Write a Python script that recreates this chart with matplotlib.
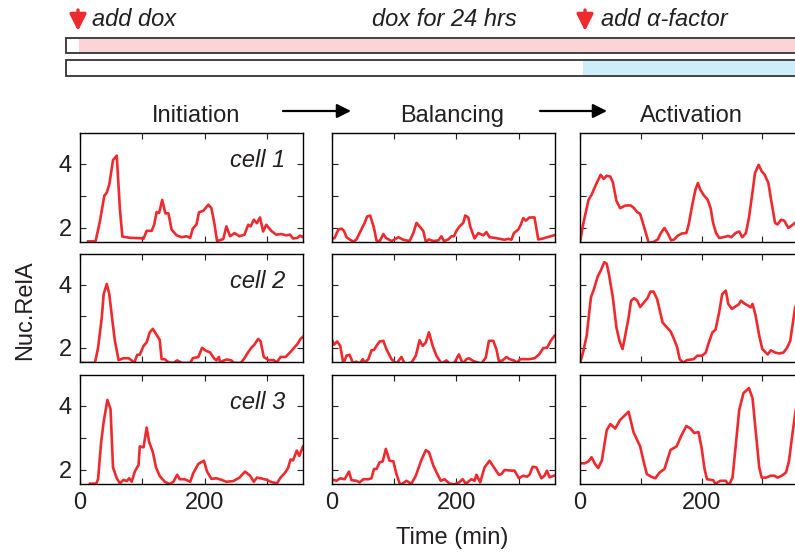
import matplotlib.pyplot as plt
from matplotlib.patches import Rectangle

plt.rcParams['font.family'] = ['Liberation Sans', 'DejaVu Sans']

# traces: time (min) and nuclear RelA, one pair per panel
init_c1_t = [13, 25, 32, 39, 43, 47, 53, 59, 64, 68, 81, 97, 102, 107, 115, 119, 123, 127, 132, 137, 142, 147, 155, 163, 171, 177,
             181, 187, 191, 198, 206, 211, 216, 220, 230, 235, 241, 248, 256, 264, 270, 274, 279, 284, 289, 294, 299, 307, 315,
             323, 331, 337, 342, 349, 353, 358]
init_c1_v = [1.57, 1.57, 2.2, 3.0, 3.1, 3.35, 4.12, 4.26, 2.6, 1.72, 1.68, 1.67, 1.65, 1.9, 1.9, 2.09, 2.49, 2.46, 2.87, 2.45, 2.45,
             1.94, 1.76, 1.7, 1.73, 1.68, 1.97, 2.1, 2.48, 2.53, 2.72, 2.61, 2.1, 1.58, 1.64, 2.04, 1.73, 1.83, 1.73, 1.78, 2.09,
             2.04, 2.25, 2.14, 2.32, 1.88, 2.09, 1.9, 1.78, 1.8, 1.76, 1.78, 1.66, 1.68, 1.75, 1.7]

bal_c1_t = [0, 5, 11, 16, 20, 24, 29, 35, 40, 45, 53, 57, 62, 68, 72, 77, 83, 87, 96, 101, 107, 115, 125, 131, 136, 141, 147, 151,
            156, 163, 171, 176, 180, 187, 192, 196, 200, 205, 211, 214, 219, 222, 229, 235, 243, 248, 253, 261, 269, 277, 283,
            288, 292, 299, 303, 307, 311, 317, 325, 331, 339, 345, 351, 356]
bal_c1_v = [1.63, 1.68, 1.94, 1.97, 1.9, 1.7, 1.63, 1.56, 1.63, 1.83, 2.15, 2.35, 2.38, 1.99, 1.6, 1.57, 1.8, 1.68, 1.58, 1.63, 1.7,
            1.62, 1.58, 1.83, 2.15, 2.04, 1.89, 1.56, 1.63, 1.58, 1.6, 1.73, 1.58, 1.63, 1.73, 1.73, 1.9, 2.04, 2.15, 2.38, 2.32,
            2.04, 1.66, 1.83, 1.76, 1.86, 1.7, 1.68, 1.65, 1.62, 1.65, 1.62, 1.83, 1.94, 2.09, 2.3, 2.22, 2.32, 2.32, 1.63, 1.66,
            1.7, 1.73, 1.76]

act_c1_t = [0, 5, 14, 19, 26, 34, 39, 44, 50, 54, 60, 66, 74, 83, 88, 94, 99, 106, 113, 121, 128, 133, 139, 145, 150, 155, 161, 168,
            175, 179, 185, 190, 194, 198, 204, 210, 215, 219, 224, 229, 236, 244, 249, 256, 262, 267, 273, 278, 284, 288, 294,
            299, 304, 310, 315, 321, 325, 331, 336, 343, 350, 355, 362]
act_c1_v = [1.55, 2.09, 2.87, 3.03, 3.34, 3.66, 3.53, 3.63, 3.6, 3.43, 2.84, 2.61, 2.69, 2.7, 2.63, 2.49, 2.43, 1.99, 1.53, 1.55,
            1.63, 1.83, 1.99, 1.8, 1.6, 1.63, 1.75, 1.82, 1.83, 2.11, 2.74, 3.19, 3.4, 3.19, 3.01, 2.88, 2.61, 2.15, 1.83, 1.68,
            1.7, 1.74, 1.7, 1.83, 1.88, 1.7, 1.83, 2.3, 3.13, 3.71, 3.97, 3.77, 3.66, 3.4, 2.82, 2.15, 2.1, 2.25, 2.22, 1.99, 2.09,
            2.17, 2.22]

init_c2_t = [0, 24, 29, 35, 38, 43, 47, 52, 56, 62, 70, 78, 83, 87, 92, 96, 102, 107, 112, 117, 122, 128, 131, 136, 142, 150, 156,
             164, 177, 181, 190, 196, 201, 209, 215, 219, 223, 225, 231, 236, 243, 247, 258, 263, 268, 275, 280, 286, 290, 295,
             303, 311, 316, 322, 330, 337, 342, 349, 354, 358]
init_c2_v = [1.52, 1.52, 2.0, 2.96, 3.7, 4.02, 3.7, 2.86, 2.22, 1.61, 1.67, 1.67, 1.6, 1.52, 1.78, 1.78, 2.06, 2.17, 2.49, 2.6,
             2.44, 2.25, 1.64, 1.64, 1.54, 1.52, 1.6, 1.52, 1.52, 1.67, 1.71, 2.0, 1.92, 1.85, 1.67, 1.6, 1.71, 1.54, 1.6, 1.63,
             1.6, 1.52, 1.52, 1.64, 1.8, 2.0, 2.1, 2.28, 2.2, 1.71, 1.61, 1.61, 1.54, 1.71, 1.71, 1.85, 1.96, 2.12, 2.28, 2.35]

bal_c2_t = [0, 4, 9, 14, 19, 24, 29, 34, 40, 45, 50, 53, 59, 64, 68, 72, 77, 83, 88, 96, 104, 112, 117, 121, 128, 135, 141, 146,
            151, 156, 162, 168, 176, 184, 189, 196, 204, 210, 216, 220, 227, 235, 240, 247, 252, 259, 264, 268, 274, 280, 285,
            292, 297, 302, 309, 317, 325, 332, 339, 345, 351, 357]
bal_c2_v = [2.28, 2.1, 2.2, 2.06, 1.5, 1.75, 1.78, 1.53, 1.56, 1.5, 1.64, 1.53, 1.64, 1.92, 1.93, 2.06, 2.2, 2.22, 1.95, 1.64, 1.5,
            1.71, 1.5, 1.5, 1.53, 1.75, 2.24, 2.06, 2.17, 2.49, 2.06, 1.75, 1.5, 1.6, 1.5, 1.5, 1.79, 1.5, 1.64, 1.67, 1.58,
            1.53, 1.5, 1.69, 2.22, 2.22, 1.95, 1.58, 1.6, 1.71, 1.64, 1.6, 1.53, 1.64, 1.64, 1.64, 1.67, 1.78, 1.99, 2.0, 2.22,
            2.38]

act_c2_t = [0, 5, 11, 18, 23, 29, 34, 40, 44, 48, 54, 60, 65, 70, 74, 80, 84, 89, 94, 99, 105, 111, 116, 121, 127, 132, 136, 142,
            149, 154, 160, 164, 170, 176, 187, 193, 201, 207, 212, 218, 223, 229, 234, 240, 244, 250, 255, 261, 265, 270, 277,
            281, 284, 289, 295, 300, 309, 314, 321, 328, 335, 341, 346, 350, 354, 362]
act_c2_v = [1.52, 1.85, 2.38, 3.6, 3.86, 4.25, 4.44, 4.71, 4.66, 4.29, 3.6, 2.64, 2.22, 1.96, 2.34, 2.96, 3.49, 3.57, 3.5, 3.29,
            3.43, 3.57, 3.78, 3.78, 3.54, 3.12, 2.8, 2.67, 2.52, 2.31, 2.01, 1.64, 1.53, 1.61, 1.64, 1.75, 1.75, 1.85, 2.17, 2.49,
            2.57, 3.12, 3.7, 3.81, 3.39, 3.23, 3.3, 3.37, 3.49, 3.41, 3.33, 3.28, 3.39, 3.02, 2.38, 1.96, 1.79, 1.92, 1.85, 1.82,
            1.85, 2.01, 2.22, 2.75, 3.28, 3.6]

init_c3_t = [16, 26, 29, 34, 38, 44, 49, 53, 59, 64, 70, 75, 79, 83, 88, 94, 96, 102, 107, 111, 117, 122, 128, 136, 144, 150, 156,
             160, 168, 177, 182, 190, 199, 204, 211, 219, 227, 235, 246, 256, 265, 273, 279, 284, 290, 300, 306, 316, 322, 329,
             334, 338, 342, 348, 352, 358]
init_c3_v = [1.56, 1.56, 1.7, 2.87, 3.5, 4.19, 3.9, 2.07, 1.73, 1.57, 1.68, 1.64, 1.73, 1.62, 1.94, 2.15, 2.73, 2.7, 3.32, 2.87,
             2.55, 2.07, 1.8, 1.62, 1.55, 1.62, 1.84, 1.7, 1.7, 1.62, 1.9, 2.18, 2.28, 1.94, 1.71, 1.73, 1.68, 1.62, 1.64, 1.75,
             1.94, 1.81, 1.62, 1.75, 1.73, 1.68, 1.62, 1.57, 1.75, 1.9, 2.05, 2.32, 2.29, 2.6, 2.43, 2.73]

bal_c3_t = [0, 8, 14, 21, 28, 32, 40, 45, 51, 59, 64, 68, 72, 77, 82, 87, 93, 99, 104, 110, 120, 128, 135, 144, 151, 156, 163, 168,
            175, 181, 189, 197, 204, 210, 215, 224, 229, 232, 238, 245, 253, 260, 268, 272, 277, 288, 293, 300, 307, 313, 317,
            322, 328, 336, 341, 345, 349, 356]
bal_c3_v = [1.7, 1.65, 1.73, 1.7, 1.94, 1.67, 1.65, 1.6, 1.7, 1.7, 1.73, 2.02, 2.02, 2.23, 2.26, 2.65, 2.28, 2.26, 1.86, 1.52,
            1.65, 1.56, 1.81, 2.31, 2.61, 2.55, 2.13, 1.92, 1.65, 1.7, 1.56, 1.54, 1.6, 1.7, 1.56, 1.7, 1.65, 1.84, 1.6, 2.07,
            2.28, 2.07, 1.84, 1.86, 1.99, 1.97, 1.97, 1.73, 1.81, 1.78, 1.84, 2.09, 2.07, 1.73, 1.81, 1.97, 1.76, 1.81]

act_c3_t = [0, 8, 14, 19, 25, 30, 36, 44, 50, 58, 66, 80, 88, 99, 105, 110, 117, 124, 131, 139, 149, 159, 167, 175, 182, 188, 195,
            200, 205, 209, 219, 223, 231, 240, 245, 251, 256, 262, 269, 278, 284, 289, 295, 299, 306, 314, 320, 325, 332, 339,
            344, 350, 355, 362]
act_c3_v = [2.2, 2.2, 2.26, 2.39, 2.17, 2.05, 2.29, 3.24, 3.43, 3.29, 3.56, 3.82, 3.18, 2.73, 2.23, 1.86, 1.78, 1.73, 1.91, 2.02,
            2.62, 2.73, 3.08, 3.37, 3.29, 3.15, 3.18, 2.7, 2.02, 1.7, 1.67, 1.56, 1.65, 1.65, 1.51, 1.75, 2.7, 3.87, 4.4, 4.56,
            4.24, 3.24, 2.07, 1.75, 1.75, 1.81, 1.81, 1.75, 1.81, 1.91, 2.28, 3.18, 3.87, 4.3]

phases = ['Initiation', 'Balancing', 'Activation']
cells = ['cell 1', 'cell 2', 'cell 3']
traces = [[(init_c1_t, init_c1_v), (bal_c1_t, bal_c1_v), (act_c1_t, act_c1_v)],
          [(init_c2_t, init_c2_v), (bal_c2_t, bal_c2_v), (act_c2_t, act_c2_v)],
          [(init_c3_t, init_c3_v), (bal_c3_t, bal_c3_v), (act_c3_t, act_c3_v)]]

W, H = 795, 553
txt = '#231f20'
red = '#ee2a2e'

fig = plt.figure(figsize=(W / 100, H / 100), dpi=100)

# overlay in pixel coordinates for the timeline and headings
ov = fig.add_axes([0, 0, 1, 1])
ov.set_xlim(0, W)
ov.set_ylim(H, 0)
ov.axis('off')

ov.add_patch(Rectangle((66, 38), 740, 15, facecolor='white', edgecolor='#333333', lw=1.3))
ov.add_patch(Rectangle((79, 39), 730, 13, facecolor='#fcd3d6', edgecolor='none'))
ov.add_patch(Rectangle((66, 60), 740, 16, facecolor='white', edgecolor='#333333', lw=1.3))
ov.add_patch(Rectangle((583, 61), 230, 14, facecolor='#cdeef9', edgecolor='none'))

for x0 in [78, 585]:
    ov.annotate('', xy=(x0, 31), xytext=(x0, 10),
                arrowprops=dict(arrowstyle='-|>,head_length=0.5,head_width=0.25', color=red,
                                lw=2.4, mutation_scale=20, shrinkA=0, shrinkB=0))
ov.text(92, 19, 'add dox', fontsize=17, style='italic', color=txt, va='center')
ov.text(372, 19, 'dox for 24 hrs', fontsize=17, style='italic', color=txt, va='center')
ov.text(601, 19, 'add α-factor', fontsize=17, style='italic', color=txt, va='center')

ov.text(196, 116, phases[0], fontsize=17, color=txt, ha='center', va='center')
ov.text(452, 116, phases[1], fontsize=17, color=txt, ha='center', va='center')
ov.text(691, 116, phases[2], fontsize=17, color=txt, ha='center', va='center')
for xa, xb in [(283, 351), (540, 607)]:
    ov.annotate('', xy=(xb, 111), xytext=(xa, 111),
                arrowprops=dict(arrowstyle='-|>', color='black', lw=1.6, mutation_scale=21,
                                shrinkA=0, shrinkB=0))

ov.text(25, 310, 'Nuc.RelA', fontsize=17, color=txt, rotation=90, ha='center', va='center')
ov.text(452, 538, 'Time (min)', fontsize=17, color=txt, ha='center', va='center')

lefts = [80, 331.5, 580]
xmax = [358, 357, 367]
rows = [(133, 242), (254, 362), (375, 484)]

for r, (top, bot) in enumerate(rows):
    for c in range(3):
        ax = fig.add_axes([lefts[c] / W, 1 - bot / H, 223 / W, (bot - top) / H])
        t, v = traces[r][c]
        ax.plot(t, v, color=red, lw=1.9)
        ax.set_xlim(0, xmax[c])
        ax.set_ylim(1.55, 4.97)
        ax.set_xticks([0, 100, 200, 300])
        ax.set_yticks([2, 3, 4])
        ax.tick_params(direction='in', top=True, right=True, length=4, width=0.8,
                       labelsize=17, colors=txt, pad=6)
        if c == 0:
            ax.set_yticklabels(['2', '', '4'])
            ax.text(0.92, 0.75, cells[r], transform=ax.transAxes, fontsize=17,
                    style='italic', color=txt, ha='right', va='center')
        else:
            ax.set_yticklabels([])
        if r == 2:
            ax.set_xticklabels(['0', '', '200', ''])
        else:
            ax.set_xticklabels([])
        for s in ax.spines.values():
            s.set_linewidth(1.0)

fig.savefig('out.png', dpi=100)
